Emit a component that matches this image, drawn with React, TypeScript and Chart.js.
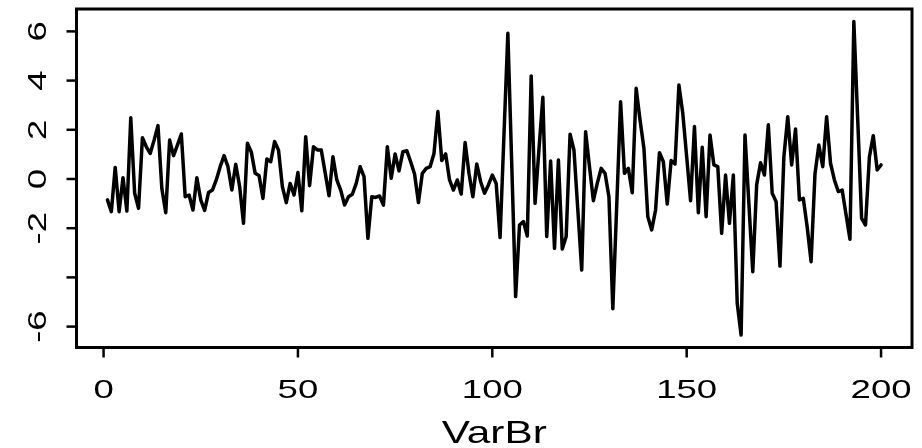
import React, { useEffect, useRef } from "react";
import { Chart, registerables } from "chart.js";

Chart.register(...registerables);

// Series: VarBr, observations 1..200
const varBr: number[] = [
  -0.85, -1.33, 0.47, -1.33, 0.05, -1.3, 2.49, -0.58, -1.19, 1.68,
  1.31, 1.04, 1.58, 2.17, -0.4, -1.37, 1.58, 0.95, 1.38, 1.83,
  -0.72, -0.65, -1.26, 0.05, -0.85, -1.28, -0.55, -0.45, -0.04, 0.5,
  0.95, 0.5, -0.45, 0.6, -0.3, -1.8, 1.45, 1.1, 0.23, 0.14,
  -0.79, 0.81, 0.7, 1.52, 1.18, -0.31, -0.96, -0.18, -0.65, 0.26,
  -1.29, 1.72, -0.27, 1.31, 1.18, 1.18, 0.26, -0.68, 0.9, -0.04,
  -0.45, -1.06, -0.72, -0.62, -0.18, 0.5, 0.1, -2.41, -0.72, -0.75,
  -0.69, -1.06, 1.31, 0.03, 1.02, 0.33, 1.11, 1.15, 0.7, 0.2,
  -0.96, 0.23, 0.43, 0.5, 1.04, 2.74, 0.75, 1.02, -0.04, -0.45,
  -0.04, -0.61, 1.48, 0.23, -0.72, 0.61, -0.11, -0.58, -0.24, 0.16,
  -0.18, -2.38, 1.8, 5.92, 0.6, -4.78, -1.87, -1.73, -2.32, 4.19,
  -0.99, 1.2, 3.32, -2.34, 0.73, -2.82, 0.77, -2.85, -2.34, 1.82,
  1.18, -1.26, -3.7, 1.92, 0.5, -0.88, -0.18, 0.43, 0.23, -0.72,
  -5.27, -1.1, 3.14, 0.23, 0.43, -0.56, 3.69, 2.4, 1.25, -1.53,
  -2.07, -1.26, 1.07, 0.7, -1.02, 0.75, 0.61, 3.82, 2.67, 0.9,
  -0.88, 2.13, -1.37, 1.29, -1.53, 1.79, 0.57, 0.5, -2.21, 0.16,
  -1.8, 0.16, -5.05, -6.34, 1.79, -1.0, -3.77, -0.24, 0.66, 0.16,
  2.2, -0.58, -0.92, -3.54, 0.9, 2.53, 0.57, 2.03, -0.85, -0.79,
  -1.95, -3.36, 0.2, 1.38, 0.5, 2.53, 0.64, -0.04, -0.51, -0.45,
  -1.45, -2.45, 6.4, 2.4, -1.6, -1.87, 0.9, 1.76, 0.37, 0.57,
];

const index: number[] = varBr.map((_, i) => i + 1);

const xTicks: number[] = [0, 50, 100, 150, 200];
const xTickLabels: string[] = ["0", "50", "100", "150", "200"];
const yTicks: number[] = [-6, -4, -2, 0, 2, 4, 6];
// the -4 label is left out, as the axis drops it for crowding
const yTickLabels: string[] = ["-6", "", "-2", "0", "2", "4", "6"];
const xTitle = "VarBr";

// axis limits padded by 4% of the data range on each side
function padded(lo: number, hi: number): [number, number] {
  const d = (hi - lo) * 0.04;
  return [lo - d, hi + d];
}

const FONT_FAMILY = '"Liberation Sans", Arial, Helvetica, sans-serif';
const STRETCH = 1.38;

function drawText(
  ctx: CanvasRenderingContext2D,
  text: string,
  x: number,
  y: number,
  size: number,
  vertical: boolean
) {
  if (!text) return;
  ctx.save();
  ctx.translate(x, y);
  if (vertical) ctx.rotate(-Math.PI / 2);
  ctx.scale(STRETCH, 1);
  ctx.font = `${size}px ${FONT_FAMILY}`;
  ctx.fillStyle = "#000";
  ctx.textAlign = "center";
  ctx.textBaseline = "alphabetic";
  ctx.fillText(text, 0, 0);
  ctx.restore();
}

const framePlugin = {
  id: "baseFrame",
  afterDraw(chart: any) {
    const { ctx, chartArea, scales } = chart;
    const { left, right, top, bottom } = chartArea;
    ctx.save();
    ctx.strokeStyle = "#000";
    ctx.lineWidth = 3;
    ctx.lineJoin = "miter";
    ctx.strokeRect(left, top, right - left, bottom - top);

    ctx.lineWidth = 2.5;
    ctx.lineCap = "butt";
    const tick = 10;
    // x axis ticks and labels
    xTicks.forEach((v, i) => {
      const px = scales.x.getPixelForValue(v);
      ctx.beginPath();
      ctx.moveTo(px, bottom);
      ctx.lineTo(px, bottom + tick);
      ctx.stroke();
      drawText(ctx, xTickLabels[i], px, bottom + 50.5, 26.5, false);
    });
    // y axis ticks and labels
    yTicks.forEach((v, i) => {
      const py = scales.y.getPixelForValue(v);
      ctx.beginPath();
      ctx.moveTo(left, py);
      ctx.lineTo(left - tick, py);
      ctx.stroke();
      drawText(ctx, yTickLabels[i], left - 31, py, 26.5, true);
    });
    drawText(ctx, xTitle, (left + right) / 2, bottom + 95.5, 30.7, false);
    ctx.restore();
  },
};

export default function App() {
  const canvasRef = useRef<HTMLCanvasElement | null>(null);

  useEffect(() => {
    const canvas = canvasRef.current;
    if (!canvas) return;
    const [xMin, xMax] = padded(Math.min(...index), Math.max(...index));
    const [yMin, yMax] = padded(Math.min(...varBr), Math.max(...varBr));

    const chart = new Chart(canvas, {
      type: "line",
      data: {
        datasets: [
          {
            label: xTitle,
            data: index.map((x, i) => ({ x, y: varBr[i] })),
            borderColor: "#000",
            borderWidth: 3.5,
            pointRadius: 0,
            tension: 0,
            fill: false,
            borderJoinStyle: "round",
            borderCapStyle: "round",
          },
        ],
      },
      options: {
        animation: false,
        responsive: false,
        devicePixelRatio: 1,
        layout: { padding: { left: 76.5, right: 10, top: 9, bottom: 100.5 } },
        plugins: {
          legend: { display: false },
          tooltip: { enabled: false },
          title: { display: false },
        },
        scales: {
          x: { type: "linear", display: false, min: xMin, max: xMax },
          y: { type: "linear", display: false, min: yMin, max: yMax },
        },
      },
      plugins: [framePlugin],
    });
    return () => chart.destroy();
  }, []);

  return (
    <div style={{ position: "fixed", left: 0, top: 0, width: 922, height: 448, background: "#fff" }}>
      <canvas ref={canvasRef} width={922} height={448} style={{ display: "block" }} />
    </div>
  );
}
